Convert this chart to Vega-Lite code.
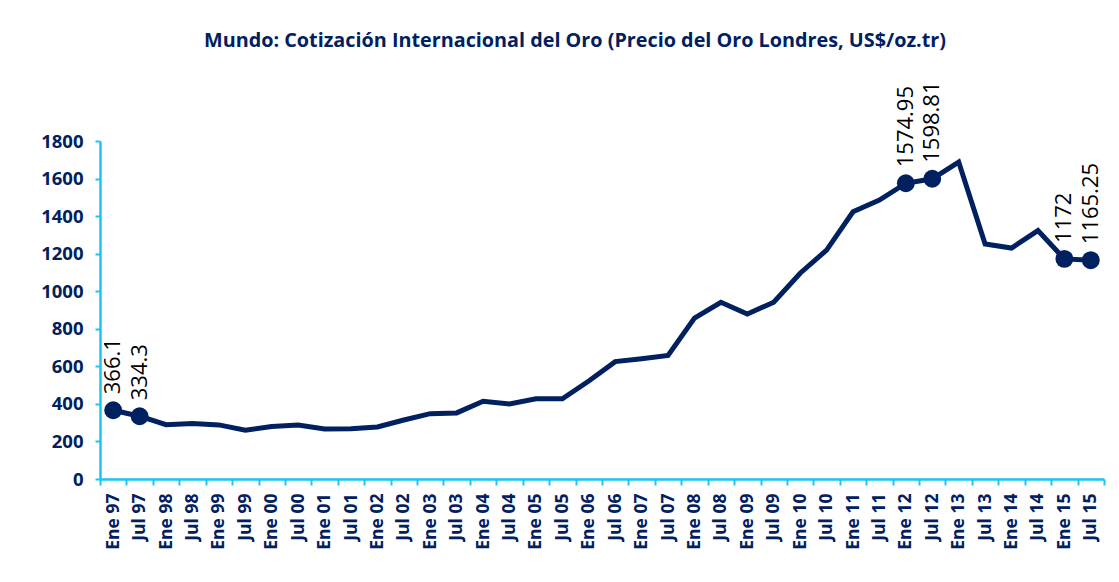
{
  "$schema": "https://vega.github.io/schema/vega-lite/v6.json",
  "autosize": "none",
  "width": 1004,
  "height": 338,
  "padding": {"left": 100, "top": 141, "right": 15, "bottom": 103},
  "background": "white",
  "title": {
    "text": "Mundo: Cotización Internacional del Oro (Precio del Oro Londres, US$/oz.tr)",
    "font": "Open Sans",
    "fontSize": 19.8,
    "fontWeight": "bold",
    "color": "#002060",
    "anchor": "middle",
    "frame": "group",
    "dx": -27,
    "dy": -27
  },
  "data": {
    "values": [
      {"periodo": "Ene 97", "precio": 366.1, "marca": true},
      {"periodo": "Jul 97", "precio": 334.3, "marca": true},
      {"periodo": "Ene 98", "precio": 289, "marca": false},
      {"periodo": "Jul 98", "precio": 296, "marca": false},
      {"periodo": "Ene 99", "precio": 288, "marca": false},
      {"periodo": "Jul 99", "precio": 260, "marca": false},
      {"periodo": "Ene 00", "precio": 280, "marca": false},
      {"periodo": "Jul 00", "precio": 287, "marca": false},
      {"periodo": "Ene 01", "precio": 266, "marca": false},
      {"periodo": "Jul 01", "precio": 267, "marca": false},
      {"periodo": "Ene 02", "precio": 277, "marca": false},
      {"periodo": "Jul 02", "precio": 314, "marca": false},
      {"periodo": "Ene 03", "precio": 348, "marca": false},
      {"periodo": "Jul 03", "precio": 352, "marca": false},
      {"periodo": "Ene 04", "precio": 414, "marca": false},
      {"periodo": "Jul 04", "precio": 400, "marca": false},
      {"periodo": "Ene 05", "precio": 427, "marca": false},
      {"periodo": "Jul 05", "precio": 427, "marca": false},
      {"periodo": "Ene 06", "precio": 522, "marca": false},
      {"periodo": "Jul 06", "precio": 625, "marca": false},
      {"periodo": "Ene 07", "precio": 640, "marca": false},
      {"periodo": "Jul 07", "precio": 658, "marca": false},
      {"periodo": "Ene 08", "precio": 857, "marca": false},
      {"periodo": "Jul 08", "precio": 941, "marca": false},
      {"periodo": "Ene 09", "precio": 879, "marca": false},
      {"periodo": "Jul 09", "precio": 941, "marca": false},
      {"periodo": "Ene 10", "precio": 1096, "marca": false},
      {"periodo": "Jul 10", "precio": 1219, "marca": false},
      {"periodo": "Ene 11", "precio": 1423, "marca": false},
      {"periodo": "Jul 11", "precio": 1485, "marca": false},
      {"periodo": "Ene 12", "precio": 1574.95, "marca": true},
      {"periodo": "Jul 12", "precio": 1598.81, "marca": true},
      {"periodo": "Ene 13", "precio": 1688, "marca": false},
      {"periodo": "Jul 13", "precio": 1251, "marca": false},
      {"periodo": "Ene 14", "precio": 1230, "marca": false},
      {"periodo": "Jul 14", "precio": 1323, "marca": false},
      {"periodo": "Ene 15", "precio": 1172, "marca": true},
      {"periodo": "Jul 15", "precio": 1165.25, "marca": true}
    ]
  },
  "encoding": {
    "x": {
      "field": "periodo",
      "type": "ordinal",
      "sort": null,
      "bandPosition": 0.5,
      "scale": {"type": "band", "paddingInner": 0, "paddingOuter": 0},
      "axis": {
        "title": null,
        "labelAngle": -90,
        "labelFont": "Open Sans",
        "labelFontSize": 17.5,
        "labelFontWeight": "bold",
        "labelColor": "#002060",
        "labelPadding": 8,
        "tickBand": "extent",
        "tickSize": 6,
        "tickWidth": 2,
        "tickColor": "#1CC4F4",
        "domainColor": "#1CC4F4",
        "domainWidth": 2.5,
        "grid": false
      }
    },
    "y": {
      "field": "precio",
      "type": "quantitative",
      "scale": {"domain": [0, 1800], "nice": false},
      "axis": {
        "title": null,
        "format": "d",
        "values": [0, 200, 400, 600, 800, 1000, 1200, 1400, 1600, 1800],
        "labelFont": "Open Sans",
        "labelFontSize": 18.5,
        "labelFontWeight": "bold",
        "labelColor": "#002060",
        "labelPadding": 12,
        "tickSize": 5,
        "tickWidth": 2,
        "tickColor": "#1CC4F4",
        "domainColor": "#1CC4F4",
        "domainWidth": 2.5,
        "grid": false
      }
    }
  },
  "layer": [
    {
      "mark": {"type": "line", "color": "#002060", "strokeWidth": 5, "strokeJoin": "miter"}
    },
    {
      "transform": [{"filter": "datum.marca"}],
      "mark": {"type": "point", "filled": true, "opacity": 1, "color": "#002060", "size": 320}
    },
    {
      "transform": [{"filter": "datum.marca"}],
      "mark": {
        "type": "text",
        "angle": -90,
        "align": "left",
        "baseline": "middle",
        "dx": 16,
        "font": "Open Sans",
        "fontSize": 22,
        "color": "black"
      },
      "encoding": {"text": {"field": "precio", "type": "nominal"}}
    }
  ],
  "config": {"view": {"stroke": null}}
}
